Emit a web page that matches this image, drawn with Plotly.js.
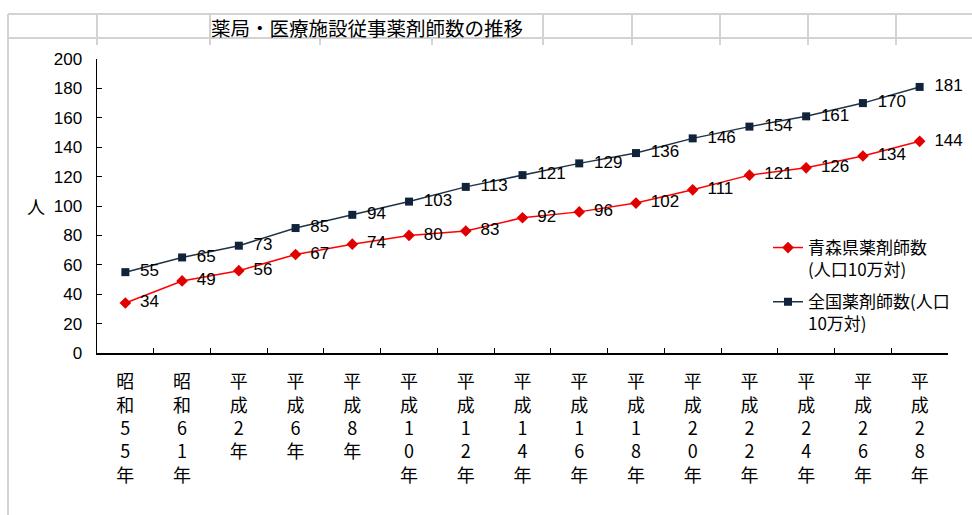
<!DOCTYPE html>
<html>
<head>
<meta charset="utf-8">
<script src="https://cdn.plot.ly/plotly-3.0.1.min.js"></script>
<style>html,body{margin:0;padding:0;background:#fff;}#chart{width:972px;height:515px;}</style>
</head>
<body>
<div id="chart"></div>
<script>
// ---- data ----
const categories = [
  "昭<br>和<br>5<br>5<br>年", "昭<br>和<br>6<br>1<br>年", "平<br>成<br>2<br>年", "平<br>成<br>6<br>年",
  "平<br>成<br>8<br>年", "平<br>成<br>1<br>0<br>年", "平<br>成<br>1<br>2<br>年", "平<br>成<br>1<br>4<br>年",
  "平<br>成<br>1<br>6<br>年", "平<br>成<br>1<br>8<br>年", "平<br>成<br>2<br>0<br>年", "平<br>成<br>2<br>2<br>年",
  "平<br>成<br>2<br>4<br>年", "平<br>成<br>2<br>6<br>年", "平<br>成<br>2<br>8<br>年"
];
const aomoriValues = [34, 49, 56, 67, 74, 80, 83, 92, 96, 102, 111, 121, 126, 134, 144];
const nationalValues = [55, 65, 73, 85, 94, 103, 113, 121, 129, 136, 146, 154, 161, 170, 181];
const aomoriName = "青森県薬剤師数<br>(人口10万対)";
const nationalName = "全国薬剤師数(人口<br>10万対)";
const yTickValues = [0, 20, 40, 60, 80, 100, 120, 140, 160, 180, 200];
const chartTitle = "薬局・医療施設従事薬剤師数の推移";
const yLabel = "人";

// ---- layout helpers (pixel -> paper) ----
const W = 972, H = 515, ML = 97, MR = 24, MT = 59, MB = 162;
const PW = W - ML - MR, PH = H - MT - MB;
const px = v => (v - ML) / PW;
const py = v => (H - MB - v) / PH;

const numFont = {family: "Liberation Sans, Arial, sans-serif", size: 17, color: "#000"};
const cjkFont = {family: "Noto Sans CJK JP, sans-serif", size: 17, color: "#000"};
const tickCjkFont = {family: "Noto Sans CJK JP, sans-serif", size: 18, color: "#000"};

function seriesTrace(vals, name, group, lineColor, markerColor, symbol, msize) {
  return {
    x: categories, y: vals, name: name, legendgroup: group, type: "scatter", mode: "lines+markers",
    line: {color: lineColor, width: 1.5},
    marker: {symbol: symbol, size: msize, color: markerColor},
    cliponaxis: false
  };
}
function labelTrace(vals, group) {
  return {
    x: categories, y: vals, type: "scatter", mode: "markers+text", showlegend: false, legendgroup: group,
    text: vals.map(String), textposition: "middle right", textfont: numFont,
    marker: {size: 22, opacity: 0}, cliponaxis: false, hoverinfo: "skip"
  };
}

const traces = [
  seriesTrace(aomoriValues, aomoriName, "a", "#FF0000", "#E00000", "diamond", 9),
  seriesTrace(nationalValues, nationalName, "b", "#1F3347", "#10233A", "square", 8),
  labelTrace(aomoriValues, "a"),
  labelTrace(nationalValues, "b")
];

const grid = "#D3D3D3";
const shapes = [];
function hline(y, x0, x1) { shapes.push({type: "line", xref: "paper", yref: "paper", x0: px(x0), x1: px(x1), y0: py(y), y1: py(y), line: {color: grid, width: 2}}); }
function vline(x, y0, y1) { shapes.push({type: "line", xref: "paper", yref: "paper", x0: px(x), x1: px(x), y0: py(y0), y1: py(y1), line: {color: grid, width: 2}}); }
hline(14, 8, 972);
hline(38, 8, 972);
vline(8, 14, 515);
[97, 210, 543, 632, 720, 808, 896].forEach(x => vline(x, 14, 38));
[97, 210, 320, 432, 543, 632, 720, 808, 896].forEach(x => vline(x, 38, 45));

const layout = {
  width: W, height: H,
  margin: {l: ML, r: MR, t: MT, b: MB, pad: 0},
  paper_bgcolor: "#fff", plot_bgcolor: "#fff",
  showlegend: true,
  legend: {
    x: px(768), y: py(230), xanchor: "left", yanchor: "top",
    font: cjkFont, bgcolor: "rgba(0,0,0,0)", traceorder: "grouped",
    tracegroupgap: 7, valign: "top"
  },
  xaxis: {
    type: "category", range: [-0.5, 14.5], autorange: false, showgrid: false, zeroline: false,
    showline: true, linecolor: "#000", linewidth: 1.5,
    ticks: "inside", ticklen: 5, tickcolor: "#000", tickson: "boundaries",
    tickfont: tickCjkFont, tickangle: 0, ticklabelstandoff: 12
  },
  yaxis: {
    range: [0, 200], autorange: false, tickvals: yTickValues, showgrid: false, zeroline: false,
    showline: true, linecolor: "#000", linewidth: 1.5,
    ticks: "inside", ticklen: 5, tickcolor: "#000",
    tickfont: numFont, ticklabelstandoff: 10
  },
  annotations: [
    {text: chartTitle, xref: "paper", yref: "paper", x: px(209), y: py(27), xanchor: "left", yanchor: "middle",
     showarrow: false, font: {family: "Noto Sans CJK JP, sans-serif", size: 19.5, color: "#000"}},
    {text: yLabel, xref: "paper", yref: "y", x: px(36), y: 100, xanchor: "center", yanchor: "middle",
     showarrow: false, font: {family: "Noto Sans CJK JP, sans-serif", size: 18, color: "#000"}}
  ],
  shapes: shapes
};

Plotly.newPlot("chart", traces, layout, {displayModeBar: false, staticPlot: true});
</script>
</body>
</html>
